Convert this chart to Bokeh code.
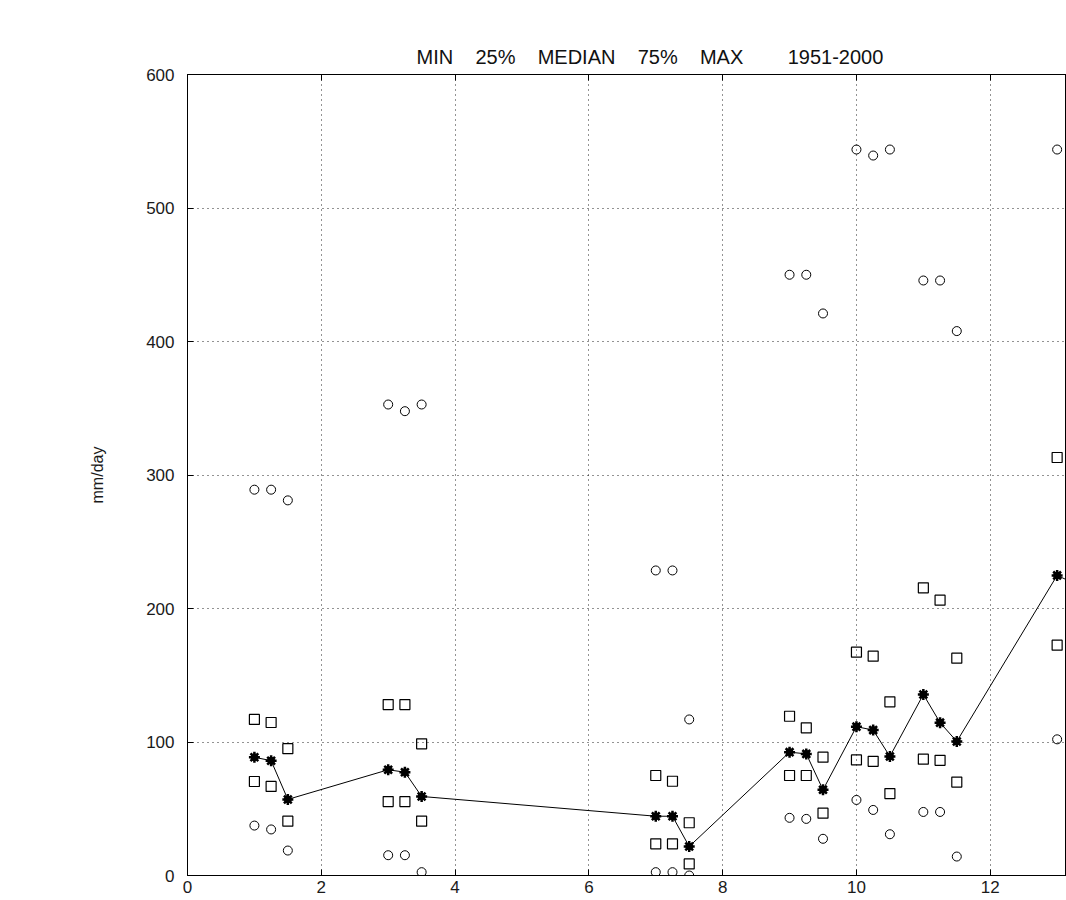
from bokeh.plotting import figure
from bokeh.models import Range1d, LinearAxis, FixedTicker, Title, ColumnDataSource
from bokeh.embed import file_html
from bokeh.resources import INLINE

# ---- data ----
x_pos = [1, 1.25, 1.5, 3, 3.25, 3.5, 7, 7.25, 7.5, 9, 9.25, 9.5,
         10, 10.25, 10.5, 11, 11.25, 11.5, 13]
v_min = [37.4, 34.5, 18.7, 15.2, 15.2, 2.5, 2.5, 2.5, 0.0, 43.2, 42.4, 27.5,
         56.6, 49.1, 30.9, 47.6, 47.6, 14.2, 102.0]
v_q25 = [70.4, 66.7, 40.7, 55.4, 55.4, 40.7, 23.7, 23.7, 8.7, 74.9, 74.9, 46.7,
         86.6, 85.5, 61.4, 87.1, 86.3, 70.0, 172.5]
v_med = [88.6, 86.0, 57.0, 79.2, 77.4, 59.2, 44.4, 44.4, 21.7, 92.4, 91.1, 64.2,
         111.5, 108.9, 89.2, 135.6, 114.5, 100.4, 224.8]
v_q75 = [116.9, 114.6, 95.0, 128.0, 128.0, 98.6, 74.9, 70.6, 39.5, 119.3, 110.6, 88.6,
         167.3, 164.3, 130.1, 215.5, 206.2, 162.8, 313.1]
v_max = [289.0, 289.0, 281.0, 352.8, 347.8, 352.8, 228.5, 228.5, 116.9, 450.0, 450.0, 421.0,
         543.8, 539.3, 543.8, 445.7, 445.7, 407.8, 543.8]
# median line continues past the visible right edge
med_line_x = x_pos + [13.25]
med_line_y = v_med + [219.0]

x_ticks = [0, 2, 4, 6, 8, 10, 12]
y_ticks = [0, 100, 200, 300, 400, 500, 600]
title_words = ["MIN", "25%", "MEDIAN", "75%", "MAX"]
title_period = "1951-2000"
title_text = "\u00a0\u00a0\u00a0\u00a0".join(title_words) + "\u00a0" * 8 + title_period
y_label = "mm/day"

FONT = "Liberation Sans"

src = ColumnDataSource(dict(x=x_pos, mn=v_min, q25=v_q25, med=v_med, q75=v_q75, mx=v_max))
line_src = ColumnDataSource(dict(x=med_line_x, y=med_line_y))

p = figure(width=1066, height=900, output_backend="svg", toolbar_location=None,
           x_range=Range1d(0, 13.14), y_range=Range1d(0, 600),
           min_border_left=187, min_border_right=0, min_border_top=74, min_border_bottom=25)
p.outline_line_color = "black"
p.background_fill_color = "white"
p.border_fill_color = "white"

# top axis: tick marks only
top = LinearAxis(ticker=FixedTicker(ticks=x_ticks), major_label_text_font_size="1px",
                 major_label_text_color=None,
                 major_label_standoff=0, major_tick_in=6, major_tick_out=0,
                 minor_tick_line_color=None, axis_line_color="black")
p.add_layout(top, "above")

title = Title(text=title_text, align="left", offset=229, text_font=FONT,
              text_font_size="20px", text_font_style="normal", text_color="#111111",
              standoff=14)
p.add_layout(title, "above")

bottom = p.below[0]
left = p.left[0]
bottom.ticker = FixedTicker(ticks=x_ticks)
left.ticker = FixedTicker(ticks=y_ticks)
p.xgrid.ticker = FixedTicker(ticks=x_ticks)
p.ygrid.ticker = FixedTicker(ticks=y_ticks)

for ax in (bottom, left):
    ax.major_tick_in = 6
    ax.major_tick_out = 0
    ax.minor_tick_line_color = None
    ax.axis_line_color = "black"
    ax.major_tick_line_color = "black"
    ax.major_label_text_font = FONT
    ax.major_label_text_font_size = "17px"
    ax.major_label_text_color = "#1a1a1a"

bottom.major_label_standoff = 5
left.major_label_standoff = 13
left.axis_label = y_label
left.axis_label_text_font = FONT
left.axis_label_text_font_size = "16px"
left.axis_label_text_font_style = "normal"
left.axis_label_text_color = "#1a1a1a"
left.axis_label_standoff = 37

p.grid.grid_line_color = "black"
p.grid.grid_line_dash = "1 4"
p.grid.grid_line_width = 1
p.grid.grid_line_alpha = 0.85

# max / min circles
p.scatter("x", "mx", source=src, marker="circle", size=9, fill_color=None,
          line_color="black", line_width=1)
p.scatter("x", "mn", source=src, marker="circle", size=9, fill_color=None,
          line_color="black", line_width=1)
# quartile squares
p.scatter("x", "q75", source=src, marker="square", size=10, fill_color=None,
          line_color="black", line_width=1.2)
p.scatter("x", "q25", source=src, marker="square", size=10, fill_color=None,
          line_color="black", line_width=1.2)
# median line and stars
p.line("x", "y", source=line_src, line_color="black", line_width=1)
p.scatter("x", "med", source=src, marker="asterisk", size=11, line_color="black", line_width=2.5)
p.scatter("x", "med", source=src, marker="circle", size=7, fill_color="black", line_color="black")

open("out.html", "w").write(file_html(p, INLINE))
